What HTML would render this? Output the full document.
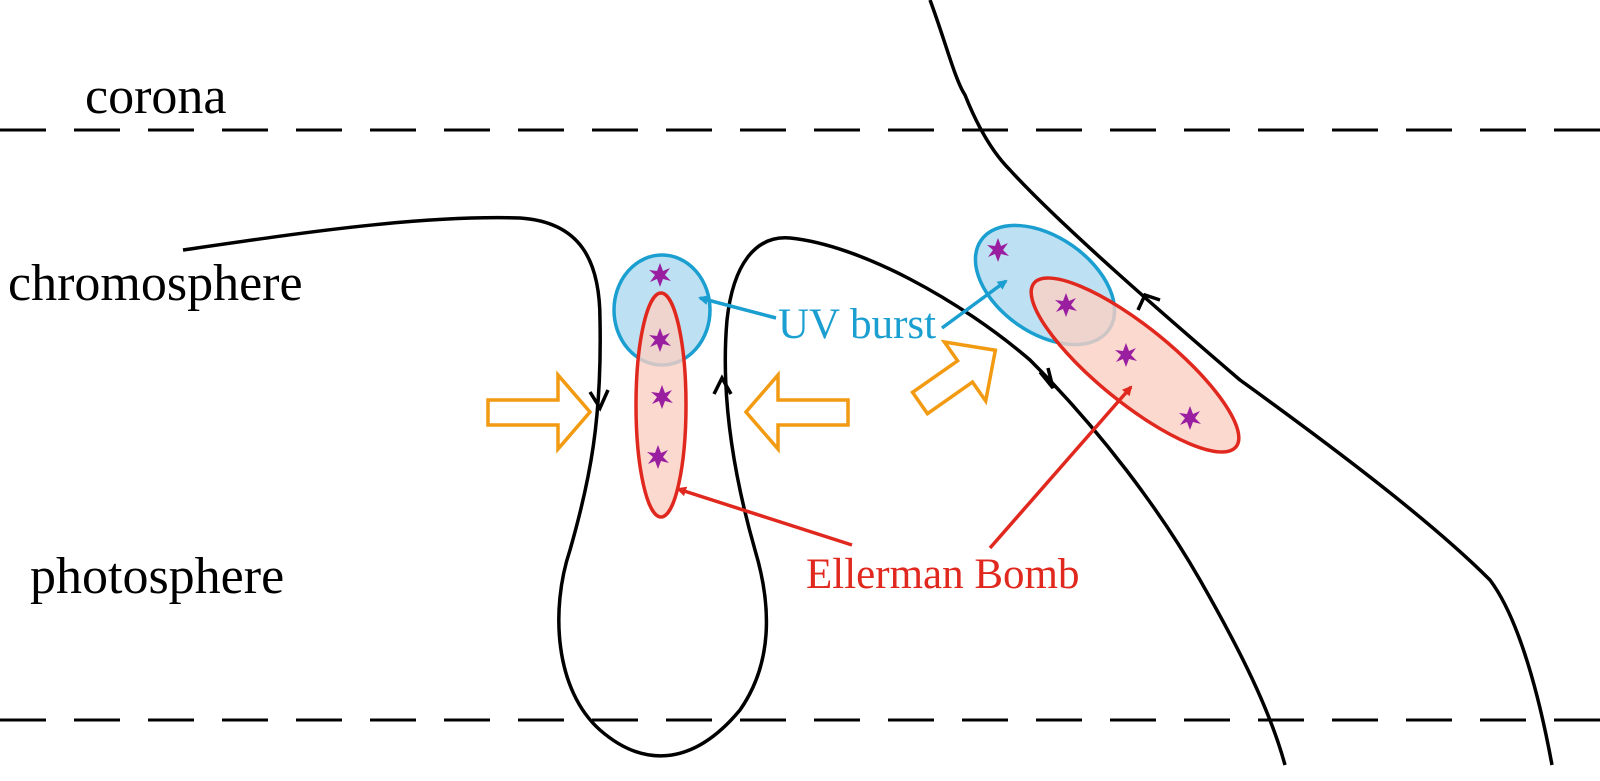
<!DOCTYPE html>
<html><head><meta charset="utf-8"><style>html,body{margin:0;padding:0;background:#fff}svg{display:block}text{font-family:"Liberation Serif",serif}</style></head>
<body>
<svg width="1600" height="781" viewBox="0 0 1600 781">
<defs>
<marker id="ab" markerWidth="10" markerHeight="10" refX="8" refY="5" orient="auto" markerUnits="userSpaceOnUse" viewBox="0 0 10 10"><path d="M0,0 L10,5 L0,10 z" fill="#1a9fd0"/></marker>
<marker id="ar" markerWidth="10" markerHeight="10" refX="8" refY="5" orient="auto" markerUnits="userSpaceOnUse" viewBox="0 0 10 10"><path d="M0,0 L10,5 L0,10 z" fill="#e0281e"/></marker>
<symbol id="star" viewBox="-12 -12 24 24"><polygon points="0,-12 3,-4 10,-7 5,0 11,6 3,4 0,12 -3,4 -10,7 -5,0 -11,-5 -3,-4" fill="#9a1fa0"/></symbol>
</defs>
<g stroke="#000" stroke-width="3" stroke-dasharray="46 28">
<line x1="0" y1="130" x2="1600" y2="130"/>
<line x1="0" y1="720" x2="1600" y2="720"/>
</g>
<text x="85" y="113" font-size="52">corona</text>
<text x="8" y="300" font-size="52">chromosphere</text>
<text x="30" y="593" font-size="52">photosphere</text>
<g fill="none" stroke="#000" stroke-width="3.5">
<path d="M183,250 C300,233 420,215 520,218 C580,222 600,260 600,320 C602,420 590,480 570,550 C550,610 555,690 600,730 C640,765 690,770 740,710 C775,660 770,600 755,550 C735,480 720,400 727,320 C733,265 755,235 790,238 C860,245 960,300 1030,360 C1100,430 1160,510 1200,580 C1240,650 1270,710 1285,765"/>
<path d="M930,0 C945,40 955,80 965,95 C975,120 990,150 1010,170 C1060,225 1170,320 1240,380 C1330,445 1430,520 1490,580 C1520,620 1540,700 1552,765"/>
<path d="M590,392 L600,408 L608,390"/>
<path d="M714,394 L722,378 L731,394"/>
<path d="M1040,372 L1053,388 L1048,368"/>
<path d="M1138,310 L1145,295 L1160,300"/>
</g>
<ellipse cx="662" cy="310" rx="48" ry="55" fill="#bde0f3" stroke="#1a9fd0" stroke-width="3.5"/>
<ellipse cx="661" cy="405" rx="25" ry="112" fill="#fbd0c3" fill-opacity="0.8" stroke="#e0281e" stroke-width="3.5"/>
<ellipse cx="1045" cy="285" rx="78" ry="48" transform="rotate(35 1045 285)" fill="#bde0f3" stroke="#1a9fd0" stroke-width="3.5"/>
<ellipse cx="1135" cy="365" rx="130" ry="38" transform="rotate(39 1135 365)" fill="#fbd0c3" fill-opacity="0.8" stroke="#e0281e" stroke-width="3.5"/>
<g>
<use href="#star" x="648" y="263" width="24" height="24"/><use href="#star" x="648" y="328" width="24" height="24"/>
<use href="#star" x="650" y="385" width="24" height="24"/><use href="#star" x="646" y="445" width="24" height="24"/>
<use href="#star" x="986" y="238" width="24" height="24"/><use href="#star" x="1054" y="293" width="24" height="24"/>
<use href="#star" x="1114" y="343" width="24" height="24"/><use href="#star" x="1178" y="406" width="24" height="24"/>
</g>
<g fill="#fff" stroke="#f29a12" stroke-width="3.5">
<path d="M488,400 L558,400 L558,375 L590,412 L558,449 L558,425 L488,425 z"/>
<path d="M848,400 L778,400 L778,375 L746,412 L778,449 L778,425 L848,425 z"/>
<path d="M0,-13 L55,-13 L55,-36 L92,0 L55,36 L55,13 L0,13 z" transform="translate(920,403) rotate(-35)"/>
</g>
<g stroke-width="3.5">
<line x1="776" y1="318" x2="700" y2="298" stroke="#1a9fd0" marker-end="url(#ab)"/>
<line x1="942" y1="328" x2="1006" y2="281" stroke="#1a9fd0" marker-end="url(#ab)"/>
<line x1="852" y1="545" x2="678" y2="489" stroke="#e0281e" marker-end="url(#ar)"/>
<line x1="990" y1="548" x2="1131" y2="387" stroke="#e0281e" marker-end="url(#ar)"/>
</g>
<text x="778" y="338" font-size="43" fill="#1a9fd0">UV burst</text>
<text x="806" y="588" font-size="43" fill="#e0281e">Ellerman Bomb</text>
</svg>
</body></html>
